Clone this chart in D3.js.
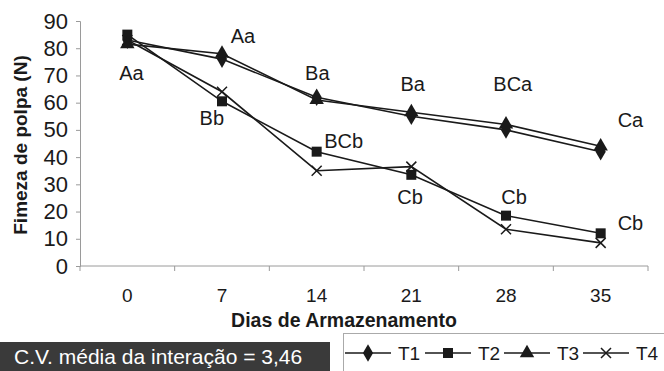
<!DOCTYPE html>
<html>
<head>
<meta charset="utf-8">
<script src="https://cdn.jsdelivr.net/npm/d3@7"></script>
<style>
  body { margin: 0; background: #fff; }
  svg { display: block; font-family: Arial, "Liberation Sans", sans-serif; }
</style>
</head>
<body>
<div id="app"></div>
<script>
// data
const days = [0, 7, 14, 21, 28, 35];
const t1 = [83, 76, 62, 55, 50, 42];
const t2 = [85, 60.5, 42, 33.5, 18.5, 12];
const t3 = [81.5, 78, 61, 56.5, 52, 44];
const t4 = [83, 64, 35, 36.5, 13.5, 8.5];
const seriesNames = ["T1", "T2", "T3", "T4"];
const yTicks = [0, 10, 20, 30, 40, 50, 60, 70, 80, 90];

// letters of the mean comparison test (day, value where they sit)
const letterText = ["Aa", "Aa", "Ba", "Bb", "BCb", "Ba", "BCa", "Ca", "Cb", "Cb", "Cb"];
const letterDay = [0.3, 8.55, 14.05, 6.25, 16, 21.1, 28.5, 37.2, 20.9, 28.6, 37.2];
const letterVal = [71, 84.6, 71, 54.2, 46, 66.7, 66.7, 53.8, 25.3, 25.3, 15.8];

const cvText = "C.V. média da interação = 3,46";

const width = 664, height = 371;
const margin = { top: 21, right: 16, bottom: 105, left: 80 };
const ink = "#1a1a1a";
const axisGrey = "#9a9a9a";

const svg = d3.select("#app").append("svg")
  .attr("width", width)
  .attr("height", height);

const x = d3.scaleLinear()
  .domain([-3.5, 38.5])
  .range([margin.left, width - margin.right]);

const y = d3.scaleLinear()
  .domain([0, 90])
  .range([height - margin.bottom, margin.top]);

// y axis
const yAxis = svg.append("g")
  .attr("transform", `translate(${margin.left},0)`)
  .call(d3.axisLeft(y).tickValues(yTicks).tickSize(4).tickPadding(8));
yAxis.select(".domain").attr("stroke", axisGrey);
yAxis.selectAll(".tick line").attr("stroke", axisGrey);
yAxis.selectAll(".tick text")
  .attr("fill", ink)
  .style("font-size", "22px")
  .style("font-family", "Arial, 'Liberation Sans', sans-serif");

// x axis: ticks between the categories, labels under each day
const edges = days.map((d) => d - 3.5).concat([38.5]);
const xAxis = svg.append("g")
  .attr("transform", `translate(0,${y(0)})`);
xAxis.append("line")
  .attr("x1", x.range()[0])
  .attr("x2", x.range()[1])
  .attr("stroke", axisGrey);
xAxis.selectAll(".edge")
  .data(edges)
  .enter()
  .append("line")
  .attr("class", "edge")
  .attr("x1", (d) => x(d))
  .attr("x2", (d) => x(d))
  .attr("y2", 5)
  .attr("stroke", axisGrey);
xAxis.selectAll(".lbl")
  .data(days)
  .enter()
  .append("text")
  .attr("class", "lbl")
  .attr("x", (d) => x(d))
  .attr("y", 36)
  .attr("text-anchor", "middle")
  .attr("fill", ink)
  .style("font-size", "19px")
  .text((d) => d);

// axis titles
svg.append("text")
  .attr("x", 344)
  .attr("y", 327)
  .attr("text-anchor", "middle")
  .attr("fill", ink)
  .style("font-size", "19.5px")
  .style("font-weight", "bold")
  .text("Dias de Armazenamento");

svg.append("text")
  .attr("transform", `translate(27,145) rotate(-90)`)
  .attr("text-anchor", "middle")
  .attr("fill", ink)
  .style("font-size", "19px")
  .style("font-weight", "bold")
  .text("Fimeza de polpa (N)");

// series
const symbols = [d3.symbolDiamond, d3.symbolSquare, d3.symbolTriangle, d3.symbolCross];
const symbolSize = [90, 100, 90, 0];
const data = [t1, t2, t3, t4].map((vals, i) => ({
  name: seriesNames[i],
  points: days.map((d, j) => ({ day: d, value: vals[j] })),
  i
}));

const line = d3.line()
  .x((d) => x(d.day))
  .y((d) => y(d.value));

const drawMarker = (g, i) => {
  if (i === 3) {
    g.append("path")
      .attr("d", "M-5,-5L5,5M-5,5L5,-5")
      .attr("stroke", ink)
      .attr("stroke-width", 1.5)
      .attr("fill", "none");
  } else {
    g.append("path")
      .attr("d", d3.symbol().type(symbols[i]).size(symbolSize[i])())
      .attr("fill", ink);
  }
};

const seriesG = svg.append("g")
  .selectAll("g")
  .data(data)
  .enter()
  .append("g");

seriesG.append("path")
  .attr("d", (d) => line(d.points))
  .attr("fill", "none")
  .attr("stroke", ink)
  .attr("stroke-width", 1.6);

seriesG.each(function (s) {
  d3.select(this)
    .selectAll(".m")
    .data(s.points)
    .enter()
    .append("g")
    .attr("class", "m")
    .attr("transform", (d) => `translate(${x(d.day)},${y(d.value)})`)
    .each(function () { drawMarker(d3.select(this), s.i); });
});

// letters
svg.append("g")
  .selectAll("text")
  .data(letterText)
  .enter()
  .append("text")
  .attr("x", (d, i) => x(letterDay[i]))
  .attr("y", (d, i) => y(letterVal[i]))
  .attr("dy", "0.35em")
  .attr("text-anchor", "middle")
  .attr("fill", ink)
  .style("font-size", "20px")
  .text((d) => d);

// C.V. box
svg.append("rect")
  .attr("x", 0)
  .attr("y", 342)
  .attr("width", 330)
  .attr("height", 30)
  .attr("fill", "#3a3a3a");
svg.append("text")
  .attr("x", 14)
  .attr("y", 364)
  .attr("fill", "#fff")
  .style("font-size", "21px")
  .text(cvText);

// legend
const legend = svg.append("g").attr("transform", "translate(343,333)");
legend.append("rect")
  .attr("x", 0.5)
  .attr("y", 0.5)
  .attr("width", 340)
  .attr("height", 50)
  .attr("fill", "#fff")
  .attr("stroke", "#aaa");

const itemX = [2, 82, 161, 240];
seriesNames.forEach((name, i) => {
  const g = legend.append("g").attr("transform", `translate(${itemX[i]},20)`);
  g.append("line")
    .attr("x1", 0)
    .attr("x2", 46)
    .attr("stroke", ink)
    .attr("stroke-width", 1.6);
  const m = g.append("g").attr("transform", "translate(23,0)");
  drawMarker(m, i);
  g.append("text")
    .attr("x", 53)
    .attr("dy", "0.35em")
    .attr("fill", ink)
    .style("font-size", "19px")
    .text(name);
});
</script>
</body>
</html>
